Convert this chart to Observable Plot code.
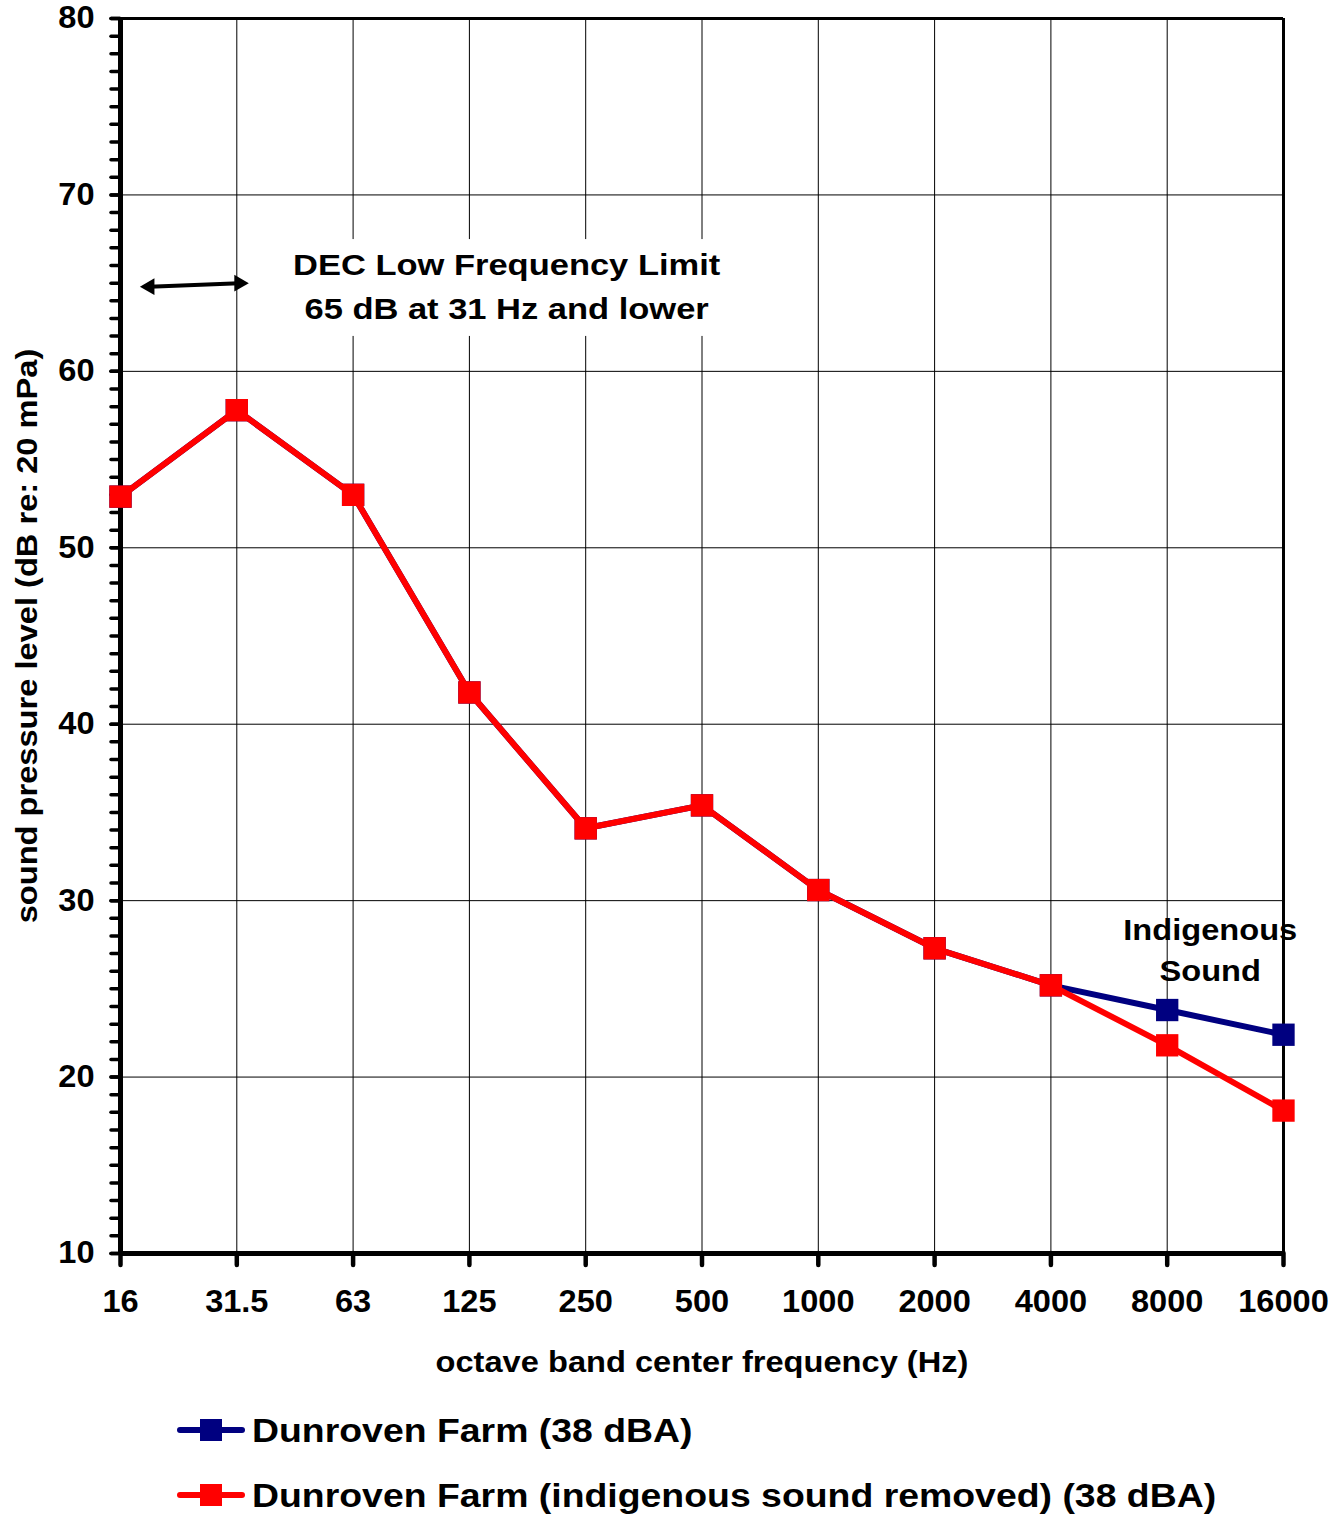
<!DOCTYPE html>
<html><head><meta charset="utf-8">
<script src="https://cdn.jsdelivr.net/npm/d3@7"></script>
<script src="https://cdn.jsdelivr.net/npm/@observablehq/plot@0.6"></script>
<style>
body{margin:0;background:#fff;font-family:"Liberation Sans",Arial,sans-serif;}
#wrap{position:relative;width:1341px;height:1518px;overflow:hidden;}
#chart{position:absolute;left:0;top:0;}
.legend{position:absolute;left:176px;display:flex;align-items:center;font-weight:bold;font-size:34px;color:#000;white-space:nowrap;}
.legend span{display:inline-block;transform:scaleX(1.1);transform-origin:left center;}
.legend svg{margin-right:6px;}
</style></head><body><div id="wrap"><div id="chart"></div><div id="legend"></div></div>
<script>
// ---- data ----
const frequencies = ["16","31.5","63","125","250","500","1000","2000","4000","8000","16000"];
const measured = [52.9, 57.8, 53.0, 41.8, 34.1, 35.4, 30.6, 27.3, 25.2, 23.8, 22.4];
const removed  = [52.9, 57.8, 53.0, 41.8, 34.1, 35.4, 30.6, 27.3, 25.2, 21.8, 18.1];
const seriesNames = ["Dunroven Farm (38 dBA)", "Dunroven Farm (indigenous sound removed) (38 dBA)"];
const seriesColors = ["#000080", "#FF0000"];
const yTicks = [10, 20, 30, 40, 50, 60, 70, 80];
const yMinorTicks = d3.range(10, 81, 1);
const xLabel = "octave band center frequency (Hz)";
const yLabel = "sound pressure level (dB re: 20 mPa)";
// annotations (x in band index, y in dB)
const limitArrow = [{x: 0.25, y: 64.8}, {x: 1.02, y: 65.0}];
const limitNote = [{x: 3.32, y: 65.03, text: "DEC Low Frequency Limit\n65 dB at 31 Hz and lower"}];
const limitBox = [{x1: 1.39, x2: 5.25, y1: 61.98, y2: 67.47}];
const indigenousNote = [{x: 9.37, y: 27.33, text: "Indigenous\nSound"}];

const idx = frequencies.map((_, i) => i);
const blueData = frequencies.map((f, i) => ({i, v: measured[i]}));
const redData = frequencies.map((f, i) => ({i, v: removed[i]}));

const W = 1341, H = 1400;
const chart = Plot.plot({
  width: W, height: H,
  marginLeft: 120, marginRight: 58, marginTop: 18, marginBottom: H - 1253,
  style: {fontFamily: '"Liberation Sans", Arial, sans-serif', fontWeight: "bold", background: "#fff", color: "#000", overflow: "visible"},
  x: {domain: [0, 10], axis: null},
  y: {domain: [10, 80], axis: null},
  marks: [
    Plot.gridX(idx, {stroke: "#000", strokeOpacity: 1, strokeWidth: 1}),
    Plot.gridY(yTicks, {stroke: "#000", strokeOpacity: 1, strokeWidth: 1}),
    Plot.rect(limitBox, {x1: "x1", x2: "x2", y1: "y1", y2: "y2", fill: "#fff"}),
    // frame
    Plot.ruleY([80], {stroke: "#000", strokeWidth: 3}),
    Plot.ruleX([10], {stroke: "#000", strokeWidth: 3}),
    Plot.axisY(yMinorTicks, {tickSize: 9, strokeWidth: 3.5, strokeLinecap: "round", text: null}),
    Plot.axisY(yTicks, {tickSize: 9, tickPadding: 17, strokeWidth: 3.5, strokeLinecap: "round", fontSize: 31, fontWeight: "bold", label: null}),
    Plot.axisX(idx, {tickSize: 12, strokeWidth: 4.5, strokeLinecap: "round", text: null, label: null}),
    Plot.text(frequencies, {x: (d, i) => i, frameAnchor: "bottom", dy: 58, text: d => d, fontSize: 31, fontWeight: "bold"}),
    Plot.ruleX([0], {stroke: "#000", strokeWidth: 5}),
    Plot.ruleY([10], {stroke: "#000", strokeWidth: 5}),
    // axis titles
    Plot.text([xLabel], {frameAnchor: "bottom", dy: 118, fontSize: 29, fontWeight: "bold"}),
    Plot.text([yLabel], {frameAnchor: "left", dx: -93, rotate: -90, textAnchor: "middle", fontSize: 29, fontWeight: "bold"}),
    // annotations
    Plot.line(limitArrow, {x: "x", y: "y", stroke: "#000", strokeWidth: 4}),
    Plot.dot(limitArrow, {x: "x", y: "y", symbol: "triangle2", r: 8, fill: "#000", rotate: (d, i) => i === 0 ? -90 : 90}),
    Plot.text(limitNote, {x: "x", y: "y", text: "text", fontSize: 30, fontWeight: "bold", lineHeight: 1.47}),
    Plot.text(indigenousNote, {x: "x", y: "y", text: "text", fontSize: 29, fontWeight: "bold", lineHeight: 1.4}),
    // series
    Plot.line(blueData, {x: "i", y: "v", stroke: seriesColors[0], strokeWidth: 6}),
    Plot.dot(blueData, {x: "i", y: "v", symbol: "square", r: 12.6, fill: seriesColors[0]}),
    Plot.line(redData, {x: "i", y: "v", stroke: seriesColors[1], strokeWidth: 6}),
    Plot.dot(redData, {x: "i", y: "v", symbol: "square", r: 12.6, fill: seriesColors[1]})
  ]
});
// widen glyphs horizontally to match the reference's typeface metrics
const stretchBySize = {"31": 1.05, "29": 1.125, "30": 1.15};
chart.querySelectorAll("g[font-size]").forEach(g => {
  const s = stretchBySize[g.getAttribute("font-size")];
  if (!s) return;
  g.querySelectorAll(":scope > text").forEach(t => {
    let x = parseFloat(t.getAttribute("x"));
    if (!isFinite(x)) x = 0;
    const tr = t.getAttribute("transform") || "";
    t.setAttribute("transform", `${tr} translate(${x},0) scale(${s},1) translate(${-x},0)`.trim());
  });
});
document.getElementById("chart").appendChild(chart);

// legend
const legend = document.getElementById("legend");
seriesNames.forEach((name, k) => {
  const row = document.createElement("div");
  row.className = "legend";
  row.style.top = (k === 0 ? 1410 : 1475) + "px";
  row.innerHTML = `<svg width="70" height="40"><line x1="4" y1="20" x2="66" y2="20" stroke="${seriesColors[k]}" stroke-width="6" stroke-linecap="round"/><rect x="24" y="9" width="22" height="22" fill="${seriesColors[k]}"/></svg><span>${name}</span>`;
  legend.appendChild(row);
});
</script></body></html>
